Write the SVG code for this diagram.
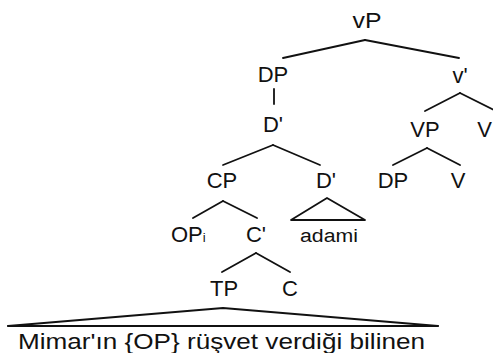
<svg xmlns="http://www.w3.org/2000/svg" width="493" height="353" viewBox="0 0 493 353">
<style>
  .lbl { font-family: "Liberation Sans", Arial, sans-serif; font-size: 22px; fill: #111; text-anchor: middle; }
  .edge { stroke: #111; stroke-width: 1.8; fill: none; stroke-linecap: round; }
</style>
<rect width="493" height="353" fill="#fff"/>
<g id="connectors">
  <line class="edge" x1="365" y1="40" x2="283" y2="58"/>
  <line class="edge" x1="365" y1="40" x2="459" y2="58"/>
  <line class="edge" x1="274" y1="89" x2="274" y2="104"/>
  <line class="edge" x1="460" y1="93" x2="425" y2="111"/>
  <line class="edge" x1="460" y1="93" x2="500" y2="113"/>
  <line class="edge" x1="273" y1="145" x2="223" y2="165"/>
  <line class="edge" x1="273" y1="145" x2="320" y2="165"/>
  <line class="edge" x1="427" y1="148" x2="393" y2="165"/>
  <line class="edge" x1="427" y1="148" x2="460" y2="165"/>
  <polygon class="edge" points="327,198 291,220 365,220" stroke-linejoin="round"/>
  <line class="edge" x1="223" y1="201" x2="193" y2="218"/>
  <line class="edge" x1="223" y1="201" x2="257" y2="218"/>
  <line class="edge" x1="256" y1="253" x2="222" y2="272"/>
  <line class="edge" x1="256" y1="253" x2="290" y2="272"/>
  <polyline class="edge" points="8,326 223,308 438,326"/>
  <line class="edge" x1="8" y1="326" x2="438" y2="326" stroke-width="2.4"/>
</g>
<g id="vP"><text class="lbl" x="367" y="28" textLength="29" lengthAdjust="spacingAndGlyphs">vP</text></g>
<g id="DP1"><text class="lbl" x="273" y="82">DP</text></g>
<g id="v1"><text class="lbl" x="460" y="83">v'</text></g>
<g id="D1"><text class="lbl" x="273" y="132">D'</text></g>
<g id="VP"><text class="lbl" x="425" y="137">VP</text></g>
<g id="V1"><text class="lbl" x="492" y="137" style="text-anchor:end">V</text></g>
<g id="CP"><text class="lbl" x="222" y="188">CP</text></g>
<g id="D2"><text class="lbl" x="326" y="188">D'</text></g>
<g id="DP2"><text class="lbl" x="393" y="188">DP</text></g>
<g id="V2"><text class="lbl" x="458" y="188">V</text></g>
<g id="OPi"><text class="lbl" x="171" y="242" style="text-anchor:start">OP<tspan font-size="13">i</tspan></text></g>
<g id="C1"><text class="lbl" x="256" y="242">C'</text></g>
<g id="adami"><text class="lbl" x="329" y="242" style="font-size:18px" textLength="58" lengthAdjust="spacingAndGlyphs">adami</text></g>
<g id="TP"><text class="lbl" x="224" y="296">TP</text></g>
<g id="C2"><text class="lbl" x="290" y="296">C</text></g>
<g id="sentence"><text class="lbl" x="18" y="349" style="text-anchor:start;font-size:22px" textLength="407" lengthAdjust="spacingAndGlyphs">Mimar'ın {OP} rüşvet verdiği bilinen</text></g>
</svg>
